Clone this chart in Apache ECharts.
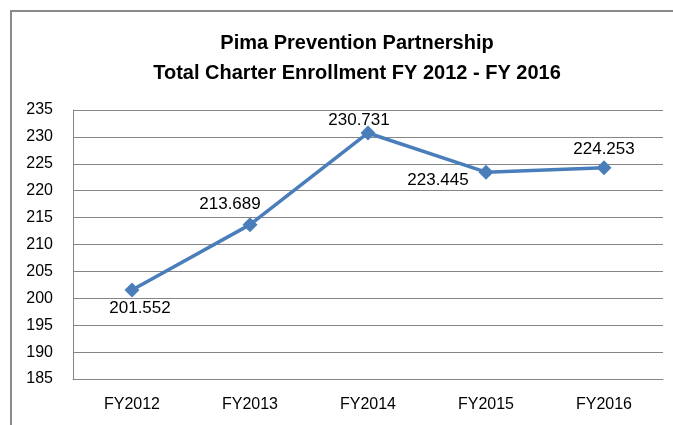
<!DOCTYPE html>
<html>
<head>
<meta charset="utf-8">
<script src="https://cdn.jsdelivr.net/npm/echarts@6/dist/echarts.min.js"></script>
<style>
  html, body { margin: 0; padding: 0; background: #fff; }
  #chart { width: 673px; height: 425px; }
</style>
</head>
<body>
<div id="chart"></div>
<script>
const years = ['FY2012', 'FY2013', 'FY2014', 'FY2015', 'FY2016']
const enrollment = [201.552, 213.689, 230.731, 223.445, 224.253]
// label shift from each point, as Excel placed them
const labelShift = [[8, 18], [-20, -20], [-9, -13], [-48, 8], [0, -19]]

const font = 'Liberation Sans, Arial, sans-serif'
const chart = echarts.init(document.getElementById('chart'))

chart.setOption({
  backgroundColor: '#fff',
  animation: false,
  title: {
    text: 'Pima Prevention Partnership\nTotal Charter Enrollment FY 2012 - FY 2016',
    left: 352,
    top: 23,
    textAlign: 'center',
    textStyle: {
      fontFamily: font,
      fontSize: 20,
      fontWeight: 'bold',
      color: '#000',
      lineHeight: 30
    }
  },
  graphic: [{
    type: 'rect',
    shape: { x: 11, y: 11, width: 700, height: 450 },
    style: { fill: 'none', stroke: '#898989', lineWidth: 2 },
    silent: true
  }],
  grid: { left: 73, right: 10, top: 110, bottom: 46 },
  xAxis: {
    type: 'category',
    data: years,
    boundaryGap: true,
    axisLine: { show: true, lineStyle: { color: '#868686' } },
    axisTick: { show: false },
    axisLabel: { fontFamily: font, fontSize: 16, color: '#000', margin: 18 }
  },
  yAxis: {
    type: 'value',
    min: 185,
    max: 235,
    interval: 5,
    axisLine: { show: true, lineStyle: { color: '#868686' } },
    axisTick: { show: false },
    splitLine: { lineStyle: { color: '#868686' } },
    axisLabel: { fontFamily: font, fontSize: 16, color: '#000', margin: 20 }
  },
  series: [{
    type: 'line',
    data: enrollment.map((v, i) => ({
      value: v,
      label: { offset: labelShift[i] }
    })),
    symbol: 'diamond',
    symbolSize: 15,
    lineStyle: { color: '#4a7ebb', width: 3.5 },
    itemStyle: { color: '#4a7ebb' },
    label: {
      show: true,
      position: 'inside',
      fontFamily: font,
      fontSize: 17,
      color: '#000',
      formatter: p => p.value.toFixed(3)
    }
  }]
})
</script>
</body>
</html>
